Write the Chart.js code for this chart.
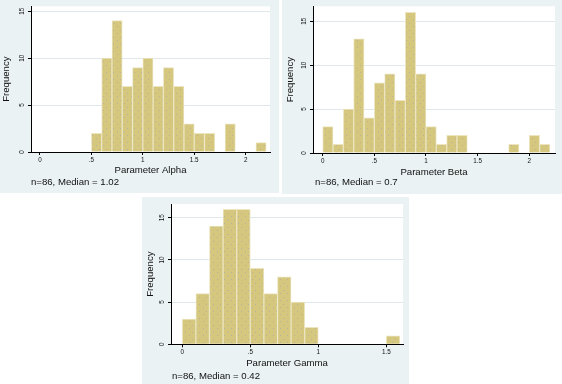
<!DOCTYPE html>
<html>
<head>
<meta charset="utf-8">
<script src="https://cdn.jsdelivr.net/npm/chart.js@4/dist/chart.umd.min.js"></script>
<style>
  html, body { margin: 0; padding: 0; background: #ffffff; }
  body { width: 562px; height: 384px; position: relative; overflow: hidden; }
  .panel { position: absolute; background: #EAF2F3; }
  canvas { display: block; }
</style>
</head>
<body>
<div class="panel" style="left:0px;top:0px;width:279px;height:193px;"><canvas id="cAlpha" width="279" height="193"></canvas></div>
<div class="panel" style="left:282px;top:0px;width:280px;height:194px;"><canvas id="cBeta" width="280" height="194"></canvas></div>
<div class="panel" style="left:142px;top:197px;width:267px;height:187px;"><canvas id="cGamma" width="267" height="187"></canvas></div>
<script>
// ---------- data ----------
const binWidth = 0.1;

const alphaBinStarts = [0.5, 0.6, 0.7, 0.8, 0.9, 1.0, 1.1, 1.2, 1.3, 1.4, 1.5, 1.6, 1.7, 1.8, 1.9, 2.0, 2.1];
const alphaCounts    = [2,   10,  14,  7,   9,   10,  7,   9,   7,   3,   2,   2,   0,   3,   0,   0,   1];

const betaBinStarts = [0.0, 0.1, 0.2, 0.3, 0.4, 0.5, 0.6, 0.7, 0.8, 0.9, 1.0, 1.1, 1.2, 1.3, 1.4, 1.5, 1.6, 1.7, 1.8, 1.9, 2.0, 2.1];
const betaCounts    = [3,   1,   5,   13,  4,   8,   9,   6,   16,  9,   3,   1,   2,   2,   0,   0,   0,   0,   1,   0,   2,   1];

const gammaBinStarts = [0.0, 0.1, 0.2, 0.3, 0.4, 0.5, 0.6, 0.7, 0.8, 0.9, 1.0, 1.1, 1.2, 1.3, 1.4, 1.5];
const gammaCounts    = [3,   6,   14,  16,  16,  9,   6,   8,   5,   2,   0,   0,   0,   0,   0,   1];

const alphaXTicks = [0, 0.5, 1, 1.5, 2];
const alphaXTickLabels = ['0', '.5', '1', '1.5', '2'];
const betaXTicks = [0, 0.5, 1, 1.5, 2];
const betaXTickLabels = ['0', '.5', '1', '1.5', '2'];
const gammaXTicks = [0, 0.5, 1, 1.5];
const gammaXTickLabels = ['0', '.5', '1', '1.5'];
const yTicks = [0, 5, 10, 15];
const yTickLabels = ['0', '5', '10', '15'];

const xTitles = ['Parameter Alpha', 'Parameter Beta', 'Parameter Gamma'];
const yTitle = 'Frequency';
const notes = ['n=86, Median = 1.02', 'n=86, Median = 0.7', 'n=86, Median = 0.42'];

// ---------- drawing ----------
const FONT = '"Liberation Sans", Arial, Helvetica, sans-serif';
Chart.defaults.font.family = FONT;

function dotPattern() {
  const c = document.createElement('canvas');
  c.width = 7; c.height = 7;
  const g = c.getContext('2d');
  g.fillStyle = '#D5C77E';
  g.fillRect(0, 0, 7, 7);
  g.fillStyle = 'rgba(150,152,195,0.45)';
  g.fillRect(1, 2, 1, 1);
  g.fillRect(5, 5, 1, 1);
  return g.createPattern(c, 'repeat');
}

const plotBg = {
  id: 'plotBg',
  beforeDraw(chart) {
    const a = chart.chartArea, ctx = chart.ctx;
    ctx.save();
    ctx.fillStyle = '#ffffff';
    ctx.fillRect(a.left, a.top, a.right - a.left, a.bottom - a.top);
    ctx.restore();
  }
};

const notePlugin = {
  id: 'note',
  afterDraw(chart, args, opts) {
    const ctx = chart.ctx, a = chart.chartArea, xs = chart.scales.x;
    ctx.save();
    ctx.font = '9.6px ' + FONT;
    ctx.fillStyle = '#111';
    ctx.textBaseline = 'middle';
    ctx.textAlign = 'left';
    ctx.fillText(opts.text, a.left + opts.dx, xs.bottom + opts.gap);
    ctx.restore();
  }
};

function makeHist(id, starts, counts, xTicks, xTickLabels, xTitle, note, geo) {
  const data = starts.map((s, i) => ({ x: s + binWidth / 2, y: counts[i] > 0 ? counts[i] : null }));
  new Chart(document.getElementById(id), {
    type: 'bar',
    data: {
      datasets: [{
        data: data,
        backgroundColor: dotPattern(),
        borderColor: '#ECE5C0',
        borderWidth: 1,
        borderSkipped: 'start',
        barPercentage: 1,
        categoryPercentage: 1,
        grouped: false
      }]
    },
    options: {
      responsive: false,
      animation: false,
      events: [],
      layout: { padding: { left: 0, top: geo.top, right: geo.right, bottom: geo.bottom } },
      plugins: {
        legend: { display: false },
        tooltip: { enabled: false },
        note: { text: note, dx: geo.noteDx, gap: geo.noteGap }
      },
      scales: {
        x: {
          type: 'linear',
          min: geo.xMin, max: geo.xMax,
          offset: false,
          bounds: 'data',
          afterBuildTicks: s => { s.ticks = xTicks.map(v => ({ value: v })); },
          afterFit: s => { s.height = geo.xH; },
          border: { display: true, color: '#000', width: 1 },
          grid: { offset: false, drawOnChartArea: false, drawTicks: true, tickLength: 3, tickColor: '#000', color: '#000' },
          ticks: {
            autoSkip: false, maxRotation: 0, minRotation: 0, padding: 1,
            font: { size: 6.3 }, color: '#111',
            callback: (v) => xTickLabels[xTicks.indexOf(v)]
          },
          title: { display: true, text: xTitle, font: { size: 9.6 }, color: '#111', padding: { top: 0, bottom: 0 } }
        },
        y: {
          min: 0, max: geo.yMax,
          afterBuildTicks: s => { s.ticks = yTicks.map(v => ({ value: v })); },
          afterFit: s => { s.width = geo.yW; },
          border: { display: true, color: '#000', width: 1 },
          grid: {
            drawTicks: true, tickLength: 3, tickColor: '#000', lineWidth: 1,
            color: (c) => (c.tick && c.tick.value === 0) ? 'rgba(0,0,0,0)' : '#DFE8EB'
          },
          ticks: {
            autoSkip: false, minRotation: 90, maxRotation: 90, crossAlign: 'center', padding: 2.5,
            font: { size: 6.3 }, color: '#111',
            callback: (v) => yTickLabels[yTicks.indexOf(v)]
          },
          title: { display: true, text: yTitle, font: { size: 9.6 }, color: '#111', padding: { top: geo.yTitlePad, bottom: 0 } }
        }
      }
    },
    plugins: [plotBg, notePlugin]
  });
}

makeHist('cAlpha', alphaBinStarts, alphaCounts, alphaXTicks, alphaXTickLabels, xTitles[0], notes[0],
  { top: 6, right: 9, bottom: 17, xH: 24, yW: 31, xMin: -0.0875, xMax: 2.237, yMax: 15.53, noteDx: 0, noteGap: 6, yTitlePad: 1 });
makeHist('cBeta', betaBinStarts, betaCounts, betaXTicks, betaXTickLabels, xTitles[1], notes[1],
  { top: 6, right: 7, bottom: 16, xH: 25, yW: 31, xMin: -0.094, xMax: 2.249, yMax: 16.7, noteDx: 2, noteGap: 4.5, yTitlePad: 2.5 });
makeHist('cGamma', gammaBinStarts, gammaCounts, gammaXTicks, gammaXTickLabels, xTitles[2], notes[2],
  { top: 7, right: 6, bottom: 14.7, xH: 25, yW: 29, xMin: -0.083, xMax: 1.623, yMax: 16.62, noteDx: 1, noteGap: 6.7, yTitlePad: 3 });
</script>
</body>
</html>
